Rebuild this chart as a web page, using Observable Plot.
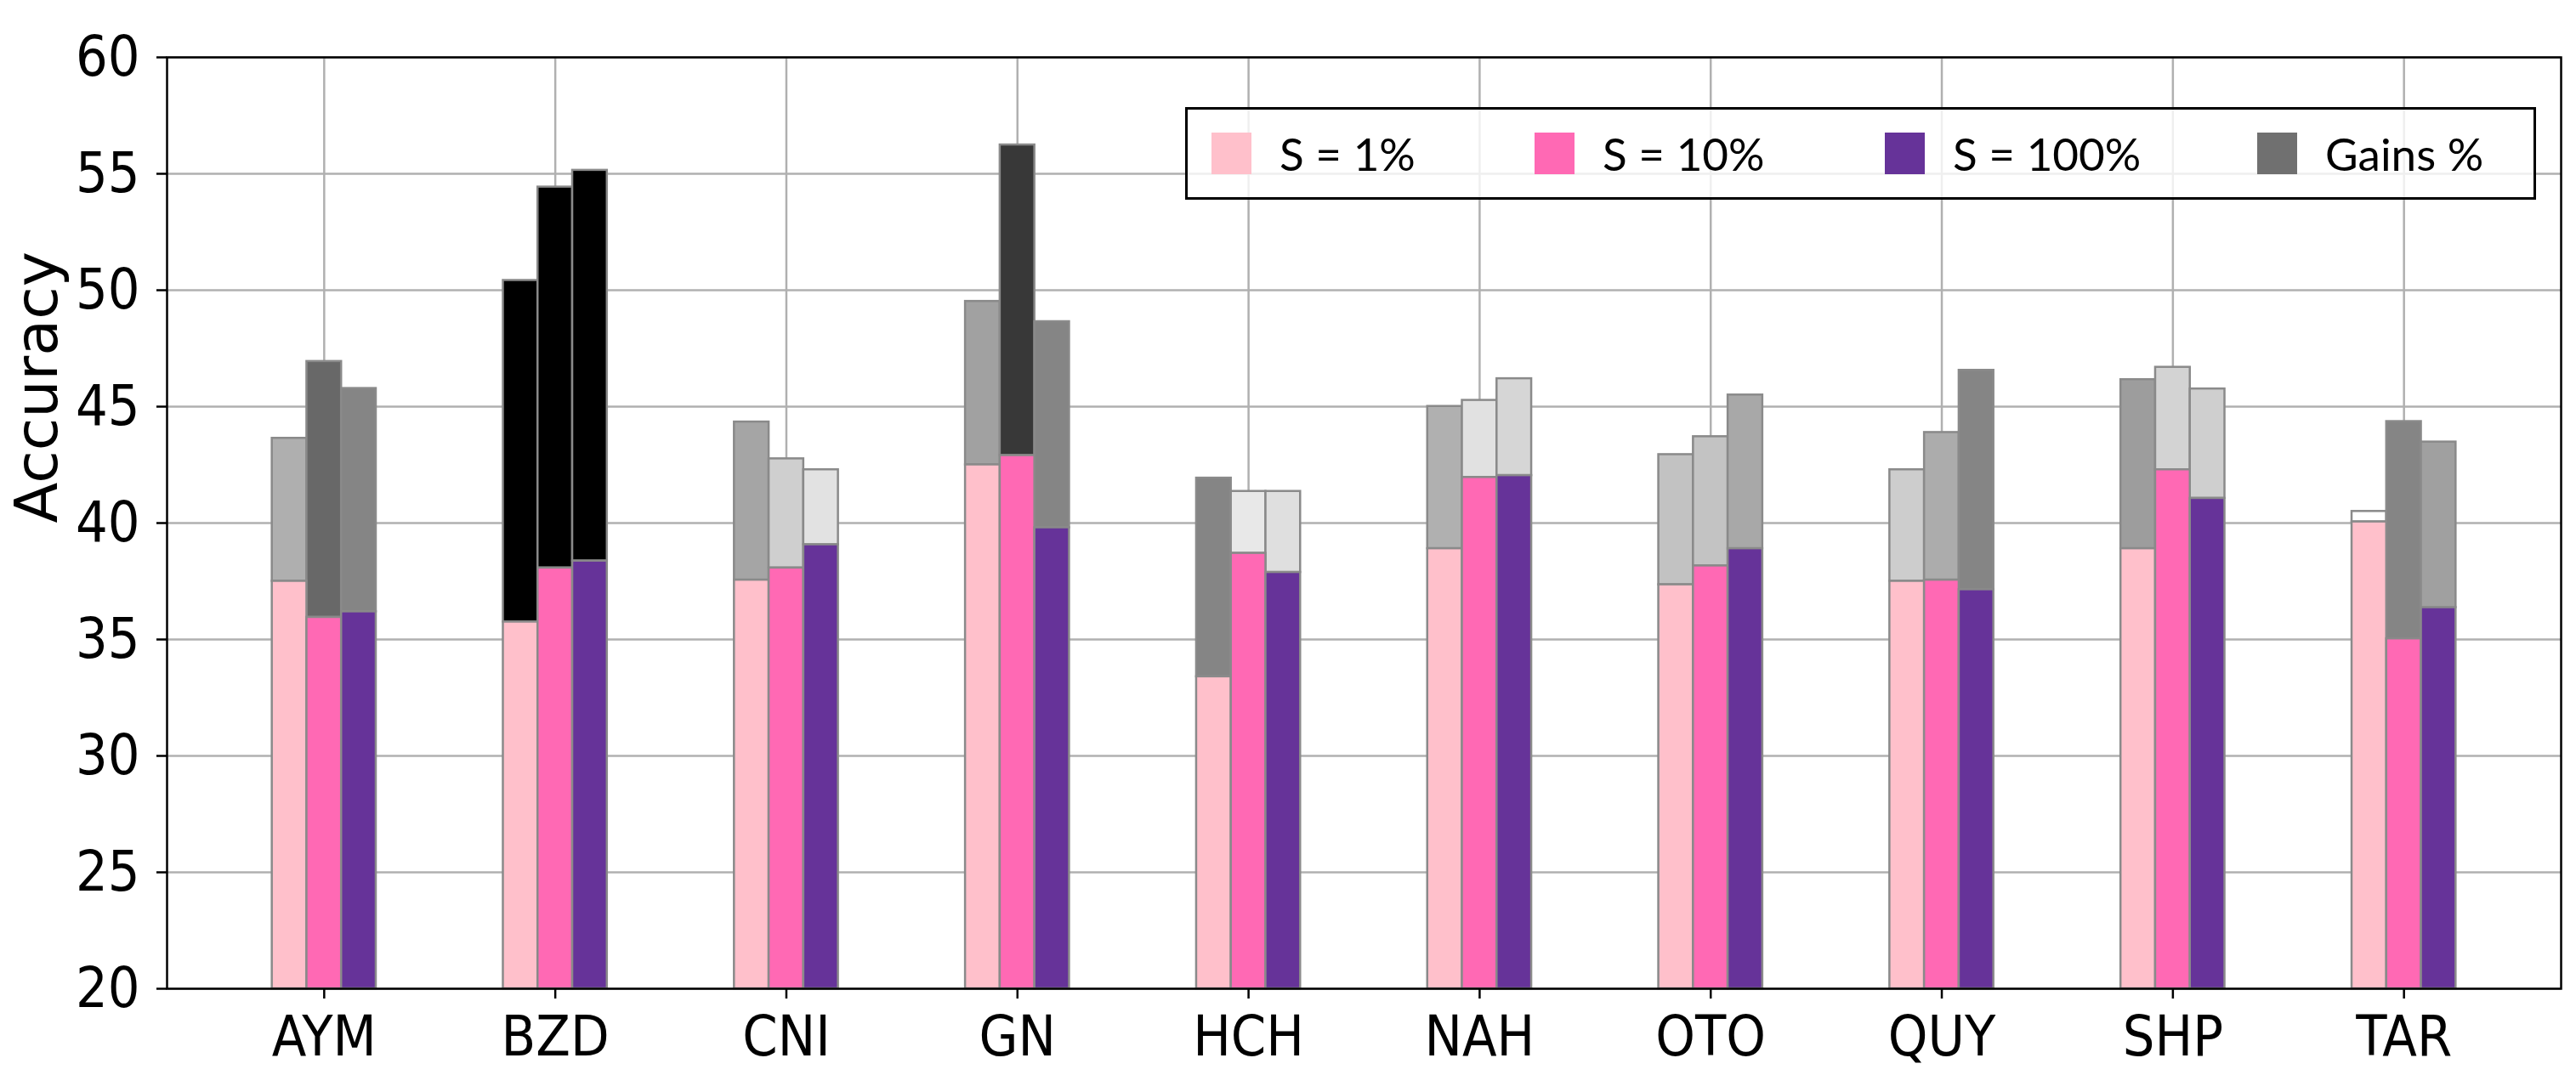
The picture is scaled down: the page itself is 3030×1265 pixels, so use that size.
<!DOCTYPE html>
<html><head><meta charset="utf-8">
<script src="https://cdn.jsdelivr.net/npm/d3@7"></script>
<script src="https://cdn.jsdelivr.net/npm/@observablehq/plot@0.6"></script>
<style>
body{margin:0;background:#fff;}
#wrap{position:relative;width:3030px;height:1265px;}
#legend{position:absolute;left:1394px;top:126px;width:1589px;height:109px;box-sizing:border-box;border:3px solid #000;background:rgba(255,255,255,0.8);font-family:Lato,"Open Sans",sans-serif;font-size:53px;color:#000;}
.item{position:absolute;top:0;height:100%;display:flex;align-items:center;white-space:nowrap;}
.sw{width:47px;height:49px;margin-right:33px;flex:none;}
</style></head>
<body><div id="wrap"><div id="legend"></div></div>
<script>
const languages = ["AYM","BZD","CNI","GN","HCH","NAH","OTO","QUY","SHP","TAR"];
const settings = ["S = 1%","S = 10%","S = 100%"];
// accuracy of each setting (top of coloured bar)
const base1   = [37.5, 35.75, 37.55, 42.5, 33.4, 38.9, 37.35, 37.5, 38.9, 40.05];
const base10  = [35.95, 38.07, 38.07, 42.9, 38.7, 41.96, 38.16, 37.55, 42.29, 35.03];
const base100 = [36.19, 38.37, 39.07, 39.8, 37.88, 42.04, 38.9, 37.14, 41.06, 36.37];
// accuracy after gains (top of grey bar)
const top1    = [43.64, 50.42, 44.34, 49.52, 41.93, 45.01, 42.94, 42.29, 46.16, 40.5];
const top10   = [46.94, 54.43, 42.76, 56.24, 41.36, 45.27, 43.71, 43.89, 46.69, 44.36];
const top100  = [45.78, 55.15, 42.29, 48.65, 41.36, 46.2, 45.5, 46.56, 45.76, 43.48];
const yTicks = [20, 25, 30, 35, 40, 45, 50, 55, 60];
const legendLabels = ["S = 1%", "S = 10%", "S = 100%", "Gains %"];

// styles
const settingColors = ["#ffc0cb", "#ff69b4", "#663399"];
const gainStops = [0.45, 2.7, 3.4, 4.4, 5.6, 6.1, 7.1, 8.5, 9.6, 11.0, 13.3, 14.6];
const gainGreys = ["#ffffff","#e8e8e8","#e0e0e0","#d3d3d3","#c2c2c2","#b0b0b0","#a0a0a0","#858585","#858585","#686868","#3a3a3a","#000000"];
const legendColors = ["#ffc0cb", "#ff69b4", "#663399", "#707070"];
const legendLefts = [28, 408, 820, 1258];

const bases = [base1, base10, base100];
const tops = [top1, top10, top100];
const rows = languages.flatMap((lang, i) => settings.map((s, j) => ({
  lang, i, j, setting: s, base: bases[j][i], top: tops[j][i], gain: tops[j][i] - bases[j][i]
})));

const w = 0.15;
const x1 = d => d.i + (d.j - 1) * w - w / 2;
const x2 = d => d.i + (d.j - 1) * w + w / 2;
const edge = {stroke: "#8a8a8a", strokeWidth: 2.5};
const tickFont = "'DejaVu Sans Condensed', 'DejaVu Sans', sans-serif";

const chart = Plot.plot({
  width: 3030,
  height: 1265,
  marginLeft: 196,
  marginRight: 18,
  marginTop: 67,
  marginBottom: 102,
  style: {fontFamily: tickFont, background: "white", overflow: "visible"},
  x: {type: "linear", domain: [-0.68, 9.68], axis: null},
  y: {domain: [20, 60], axis: null},
  color: {type: "linear", domain: gainStops, range: gainGreys, clamp: true},
  marks: [
    Plot.gridX(d3.range(languages.length), {stroke: "#b0b0b0", strokeOpacity: 1, strokeWidth: 2.5}),
    Plot.gridY(yTicks, {stroke: "#b0b0b0", strokeOpacity: 1, strokeWidth: 2.5}),
    Plot.rect(rows, {x1, x2, y1: "base", y2: "top", fill: "gain", ...edge}),
    ...settings.map((s, j) => Plot.rect(rows.filter(d => d.j === j), {
      x1, x2, y1: () => 20, y2: "base", fill: settingColors[j], ...edge
    })),
    Plot.frame({stroke: "black", strokeWidth: 2.5}),
    Plot.axisX(d3.range(languages.length), {
      tickFormat: i => languages[i], tickSize: 12, tickPadding: 20, fontSize: 66,
      strokeWidth: 2.5, label: null, fill: "black"
    }),
    Plot.axisY(yTicks, {
      tickSize: 12, tickPadding: 20, fontSize: 66, strokeWidth: 2.5, label: null, fill: "black"
    }),
    Plot.text(["Accuracy"], {
      text: d => d, frameAnchor: "left", rotate: -90, dx: -152, fontSize: 70,
      fontFamily: "'DejaVu Sans', sans-serif", fill: "black"
    })
  ]
});
const wrap = document.getElementById("wrap");
wrap.insertBefore(chart, wrap.firstChild);

const legend = document.getElementById("legend");
legendLabels.forEach((lab, k) => {
  const item = document.createElement("div");
  item.className = "item";
  item.style.left = legendLefts[k] + "px";
  const sw = document.createElement("div");
  sw.className = "sw";
  sw.style.background = legendColors[k];
  const t = document.createElement("span");
  t.textContent = lab;
  item.appendChild(sw);
  item.appendChild(t);
  legend.appendChild(item);
});
</script>
</body></html>
